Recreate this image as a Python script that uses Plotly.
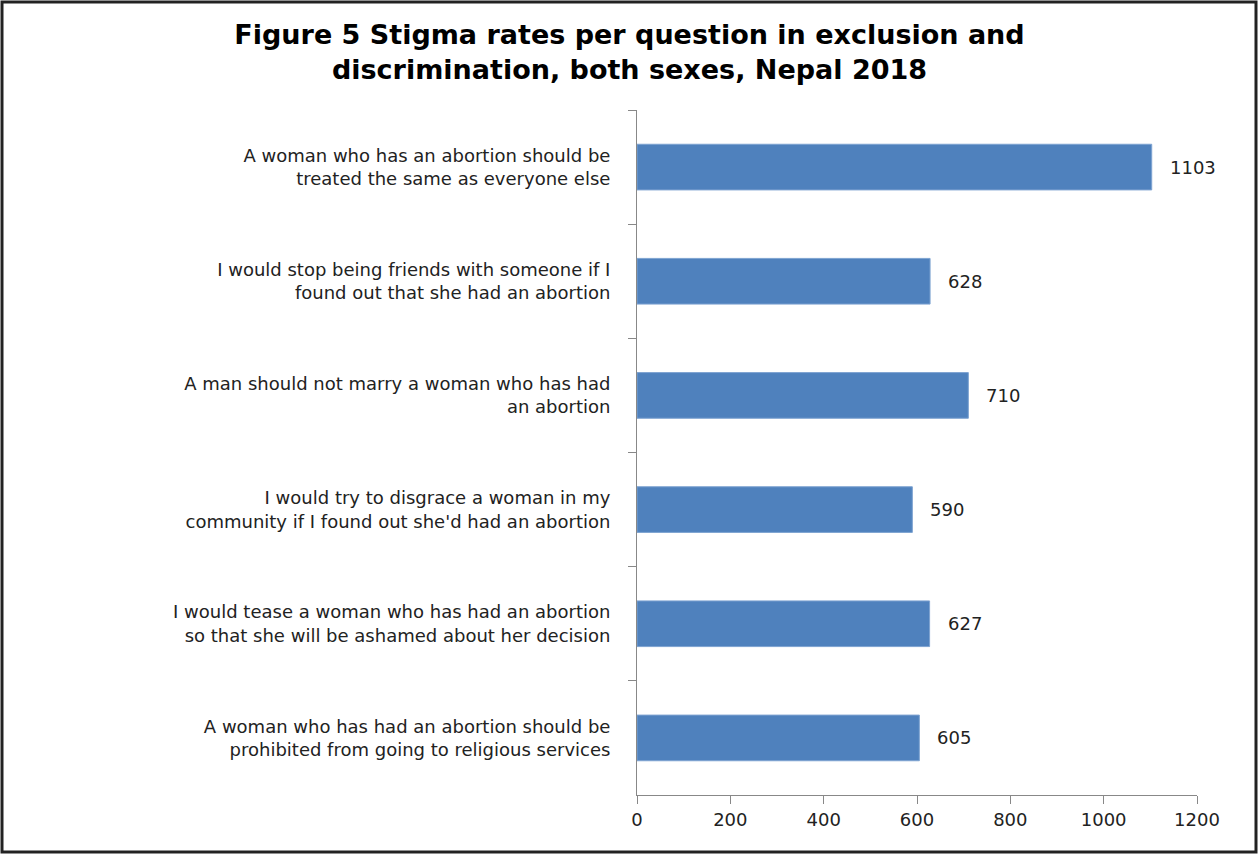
import plotly.graph_objects as go

categories = [
    "A woman who has an abortion should be<br>treated the same as everyone else",
    "I would stop being friends with someone if I<br>found out that she had an abortion",
    "A man should not marry a woman who has had<br>an abortion",
    "I would try to disgrace a woman in my<br>community if I found out she'd had an abortion",
    "I would tease a woman who has had an abortion<br>so that she will be ashamed about her decision",
    "A woman who has had an abortion should be<br>prohibited from going to religious services",
]
values = [1103, 628, 710, 590, 627, 605]
x_ticks = [0, 200, 400, 600, 800, 1000, 1200]

W, H = 1259, 855
L, R, T, B = 637, 1197, 110, 795
FONT = "DejaVu Sans"

fig = go.Figure()
fig.add_trace(go.Bar(
    x=values, y=categories, orientation="h",
    marker=dict(color="#4F81BD", line=dict(color="#7EA3D1", width=1)),
    width=0.4, showlegend=False, hoverinfo="x+y",
))
for c, v in zip(categories, values):
    fig.add_annotation(x=v, y=c, text=str(v), showarrow=False, xanchor="left",
                       xshift=16, font=dict(family=FONT, size=18, color="#222"))

fig.update_layout(
    width=W, height=H,
    margin=dict(l=L, r=W - R, t=T, b=H - B, pad=0),
    paper_bgcolor="white", plot_bgcolor="white",
    title=dict(text="<b>Figure 5 Stigma rates per question in exclusion and<br>discrimination, both sexes, Nepal 2018</b>",
               x=0.5, xanchor="center", y=0.949, yanchor="top",
               font=dict(family=FONT, size=27, color="black")),
    font=dict(family=FONT, size=18, color="#222"),
    xaxis=dict(range=[0, 1200], tickvals=x_ticks, ticks="outside", ticklen=8,
               tickcolor="#888", showline=True, linecolor="#888", linewidth=1,
               showgrid=False, zeroline=False, tickfont=dict(size=18), fixedrange=True),
    yaxis=dict(categoryorder="array", categoryarray=categories, autorange="reversed",
               ticks="outside", ticklen=8, tickcolor="#888", tickson="boundaries",
               showline=True, linecolor="#888", linewidth=1, showgrid=False,
               ticklabelstandoff=22, tickfont=dict(size=18)),
    shapes=[dict(type="rect", xref="paper", yref="paper",
                 x0=(2 - L) / (R - L), x1=(1256 - L) / (R - L),
                 y0=(B - 852) / (B - T), y1=(B - 2) / (B - T),
                 line=dict(color="#222", width=3), fillcolor="rgba(0,0,0,0)", layer="above")],
)
fig.write_html("out.html")
